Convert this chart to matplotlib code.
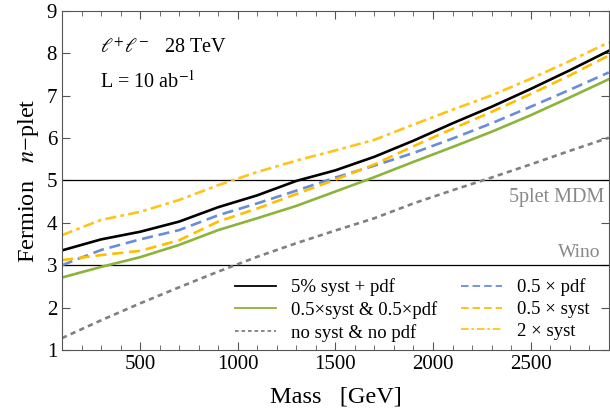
import numpy as np
import matplotlib
matplotlib.use("Agg")
import matplotlib.pyplot as plt
from matplotlib.ticker import MultipleLocator

plt.rcParams['font.family'] = ['Liberation Serif', 'DejaVu Serif']
plt.rcParams['mathtext.fontset'] = 'stix'

# data
mass = [100, 300, 500, 700, 900, 1100, 1300, 1500, 1700, 1900, 2100, 2300, 2500, 2700, 2900]
syst_pdf = [3.35, 3.61, 3.79, 4.03, 4.37, 4.65, 4.99, 5.24, 5.56, 5.94, 6.35, 6.74, 7.16, 7.60, 8.06]
half_both = [2.71, 2.96, 3.19, 3.48, 3.83, 4.11, 4.40, 4.74, 5.08, 5.44, 5.79, 6.15, 6.54, 6.96, 7.39]
no_both = [1.28, 1.70, 2.10, 2.48, 2.85, 3.20, 3.52, 3.82, 4.11, 4.46, 4.77, 5.07, 5.38, 5.70, 6.01]
half_pdf = [3.00, 3.36, 3.61, 3.83, 4.18, 4.46, 4.76, 5.07, 5.35, 5.65, 5.99, 6.35, 6.74, 7.14, 7.55]
half_syst = [3.12, 3.24, 3.34, 3.59, 4.03, 4.34, 4.68, 5.02, 5.38, 5.81, 6.22, 6.62, 7.04, 7.48, 7.95]
two_syst = [3.71, 4.07, 4.26, 4.54, 4.89, 5.20, 5.47, 5.71, 5.96, 6.32, 6.67, 7.01, 7.40, 7.82, 8.26]

fig = plt.figure(figsize=(6.10, 4.17), dpi=100)
ax = fig.add_axes([0.1016, 0.1607, 0.8964, 0.8129])

green = '#8db33a'
blue = '#6a8ddb'
gold = '#ffbe00'
gold2 = '#ffc41a'

ax.axhline(5, color='black', lw=0.9)
ax.axhline(3, color='black', lw=0.9)

lw = 1.9
ax.plot(mass, syst_pdf, color='black', lw=lw)
ax.plot(mass, half_both, color=green, lw=lw)
ax.plot(mass, no_both, color='#808080', lw=lw, dashes=(2.0, 1.6))
ax.plot(mass, half_pdf, color=blue, lw=lw, dashes=(4.2, 2.2))
ax.plot(mass, half_syst, color=gold, lw=lw, dashes=(4.2, 2.2))
ax.plot(mass, two_syst, color=gold2, lw=lw, dashes=(4.2, 1.6, 1.4, 1.6))

ax.set_xlim(100, 2900)
ax.set_ylim(1, 9)
ax.xaxis.set_major_locator(MultipleLocator(500))
ax.xaxis.set_minor_locator(MultipleLocator(100))
ax.yaxis.set_major_locator(MultipleLocator(1))
ax.tick_params(which='both', direction='in', top=True, right=True, labelsize=15, color='#555555')
ax.tick_params(which='major', length=6)
ax.tick_params(which='minor', length=3.5)
for s in ax.spines.values():
    s.set_color('#555555')

ax.set_xlabel('Mass   [GeV]', fontsize=17.5, labelpad=9)
ax.set_ylabel('Fermion   $n$\u2212plet', fontsize=17.5)

ax.text(0.07, 0.875, r'$\ell^{+}\ell^{-}$   28 TeV', transform=ax.transAxes, fontsize=14.5)
ax.text(0.07, 0.775, 'L = 10 ab$^{-1}$', transform=ax.transAxes, fontsize=14.5)
ax.text(2875, 4.83, '5plet MDM', color='#888888', fontsize=14.5, ha='right', va='top')
ax.text(2860, 3.1, 'Wino', color='#888888', fontsize=14, ha='right', va='bottom')

h1, = ax.plot([], [], color='black', lw=1.3)
h2, = ax.plot([], [], color=green, lw=1.3)
h3, = ax.plot([], [], color='#808080', lw=1.3, dashes=(2.0, 1.6))
h4, = ax.plot([], [], color=blue, lw=1.3, dashes=(4.2, 2.2))
h5, = ax.plot([], [], color=gold, lw=1.3, dashes=(4.2, 2.2))
h6, = ax.plot([], [], color=gold2, lw=1.3, dashes=(4.2, 1.6, 1.4, 1.6))
ax.legend([h1, h2, h3, h4, h5, h6],
          ['5% syst + pdf', '0.5\u00d7syst & 0.5\u00d7pdf', 'no syst & no pdf',
           '0.5 \u00d7 pdf', '0.5 \u00d7 syst', '2 \u00d7 syst'],
          ncol=2, frameon=False, fontsize=13.5, loc='lower right',
          bbox_to_anchor=(0.981, 0.0), handlelength=2.2, handletextpad=0.8,
          columnspacing=1.25, labelspacing=0.25, borderaxespad=0.05)

fig.savefig('out.png', dpi=100)
